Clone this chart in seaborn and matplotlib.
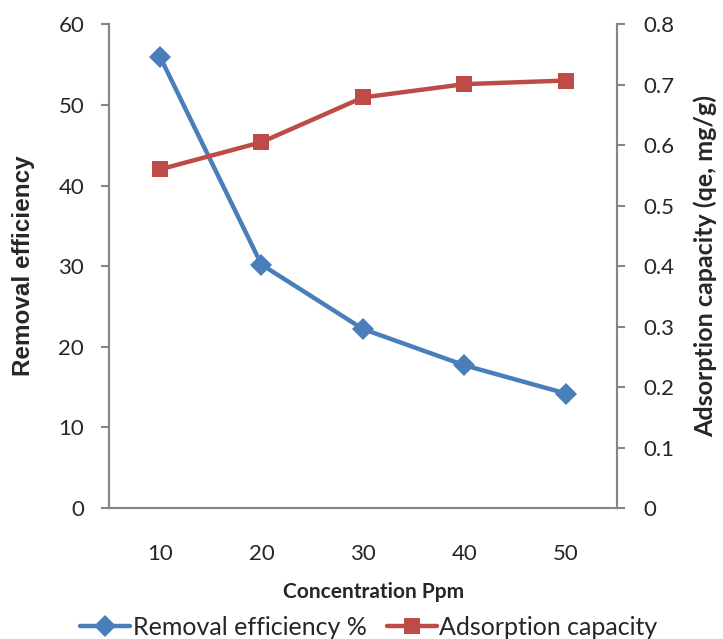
import matplotlib
matplotlib.use("Agg")
import matplotlib.pyplot as plt
import seaborn as sns
import pandas as pd
import numpy as np
from matplotlib.lines import Line2D

concentration = ["10", "20", "30", "40", "50"]
removal_efficiency = [56.0, 30.2, 22.2, 17.7, 14.2]
adsorption_capacity = [0.560, 0.605, 0.679, 0.701, 0.707]
left_ticks = [0, 10, 20, 30, 40, 50, 60]
right_ticks = [0, 0.1, 0.2, 0.3, 0.4, 0.5, 0.6, 0.7, 0.8]

sns.set_style("white")
plt.rcParams['font.family'] = ['Lato', 'DejaVu Sans']

blue = "#4A7EBB"
red = "#BE4B48"
gray = "#868686"

df = pd.DataFrame({"conc": concentration, "re": removal_efficiency, "qe": adsorption_capacity})
df["pos"] = np.arange(len(df))

fig = plt.figure(figsize=(7.23, 6.39), dpi=100)
ax = fig.add_axes([0.151, 0.205, 0.702, 0.757])
ax2 = ax.twinx()

sns.lineplot(data=df, x="pos", y="re", ax=ax, color=blue, marker="D", markersize=11,
             linewidth=3.2, markeredgewidth=0, legend=False)
sns.lineplot(data=df, x="pos", y="qe", ax=ax2, color=red, marker="s", markersize=12,
             linewidth=3.2, markeredgewidth=0, legend=False)

ax.set_xlim(-0.5, len(concentration) - 0.5)
ax.set_ylim(0, 60)
ax2.set_ylim(0, 0.8)
ax.set_yticks(left_ticks)
ax.set_yticklabels([str(t) for t in left_ticks])
ax2.set_yticks(right_ticks)
ax2.set_yticklabels(["0"] + [f"{t:.1f}" for t in right_ticks[1:]])

ax.set_xticks(np.arange(len(concentration)))
ax.set_xticklabels(concentration)
ax.set_xticks(np.arange(-0.5, len(concentration)), minor=True)
ax.tick_params(axis="x", which="major", length=0, labelsize=16, pad=26)
ax.tick_params(axis="x", which="minor", length=6, color=gray, width=1.5, direction="out")
ax.tick_params(axis="y", length=6, color=gray, width=1.5, direction="out", labelsize=16, pad=12)
ax2.tick_params(axis="y", length=6, color=gray, width=1.5, direction="out", labelsize=16, pad=13)

for a in (ax, ax2):
    a.spines["top"].set_visible(False)
    for s in ("left", "right", "bottom"):
        a.spines[s].set_color(gray)
        a.spines[s].set_linewidth(1.5)
    a.grid(False)

ax.set_xlabel("Concentration Ppm", fontsize=15, fontweight="bold", labelpad=8)
ax.xaxis.set_label_coords(0.52, -0.152)
ax.set_ylabel("Removal efficiency", fontsize=17.5, fontweight="bold", labelpad=17,
              family=["Liberation Sans", "DejaVu Sans"])
ax2.set_ylabel("Adsorption capacity (qe, mg/g)", fontsize=18, fontweight="bold", labelpad=14)

handles = [
    Line2D([0], [0], color=blue, marker="D", markersize=11, linewidth=3.2, markeredgewidth=0),
    Line2D([0], [0], color=red, marker="s", markersize=12, linewidth=3.2, markeredgewidth=0),
]
fig.legend(handles, ["Removal efficiency %", "Adsorption capacity"], loc="lower center",
           bbox_to_anchor=(0.51, -0.035), ncol=2, frameon=False, fontsize=18,
           handlelength=2.0, handletextpad=0.1, columnspacing=0.8)

fig.savefig("out.png", dpi=100)
